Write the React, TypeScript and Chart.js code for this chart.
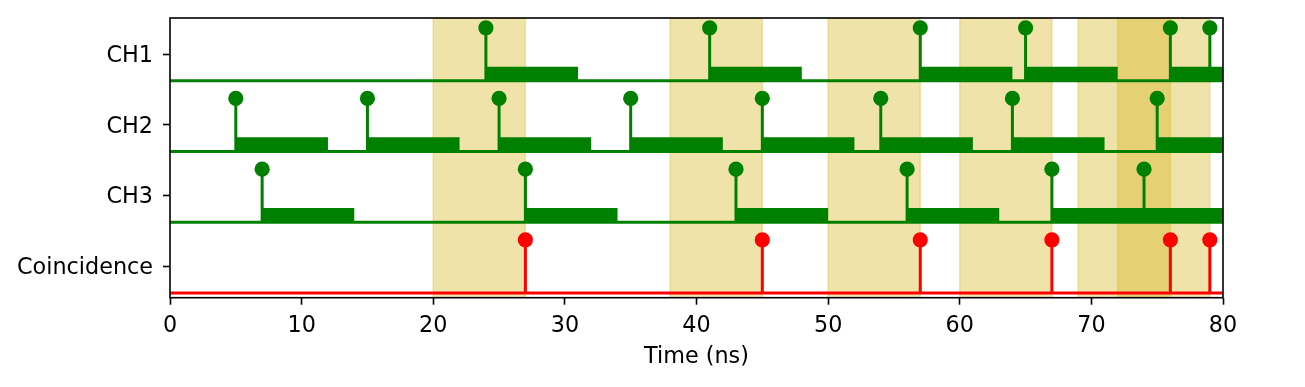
import React, { useEffect, useRef } from "react";
import { Chart, registerables } from "chart.js";

Chart.register(...registerables);

// ---- data ----
const channelLabels = ["CH1", "CH2", "CH3", "Coincidence"];
const channelBaselines = [3, 2, 1, 0];
const ch1Pulses = [24, 41, 57, 65, 76, 79];
const ch2Pulses = [5, 15, 25, 35, 45, 54, 64, 75];
const ch3Pulses = [7, 27, 43, 56, 67, 74];
const coincidencePulses = [27, 45, 57, 67, 76, 79];
const windowStarts = [20, 38, 50, 60, 69, 72];
const windowEnds = [27, 45, 57, 67, 76, 79];
const gateWidth = 7; // ns, length of each channel's gate
const stemHeight = 0.75;
const gateHeight = 0.2;
const labelOffset = 0.375;
const xTicks = [0, 10, 20, 30, 40, 50, 60, 70, 80];
const xMin = 0;
const xMax = 80;
const yMin = -0.068;
const yMax = 3.888;

const GREEN = "#008000";
const RED = "#ff0000";
const SPAN_FILL = "rgba(212,182,28,0.38)";
const FONT = "'DejaVu Sans', 'Liberation Sans', sans-serif";
const FONT_SIZE = 22.3;

function gateWaveform(pulses: number[], base: number) {
  // merge overlapping gates
  const intervals: [number, number][] = [];
  pulses
    .slice()
    .sort((a, b) => a - b)
    .forEach((p) => {
      const s = p;
      const e = Math.min(p + gateWidth, xMax);
      const last = intervals[intervals.length - 1];
      if (last && s <= last[1]) last[1] = Math.max(last[1], e);
      else intervals.push([s, e]);
    });
  const pts: { x: number; y: number }[] = [{ x: xMin, y: base }];
  intervals.forEach(([s, e]) => {
    pts.push({ x: s, y: base }, { x: s, y: base + gateHeight }, { x: e, y: base + gateHeight }, { x: e, y: base });
  });
  if (pts[pts.length - 1].x < xMax) pts.push({ x: xMax, y: base });
  return pts;
}

function stemPoints(pulses: number[], base: number) {
  const pts: { x: number; y: number | null }[] = [];
  pulses.forEach((p) => {
    pts.push({ x: p, y: base }, { x: p, y: base + stemHeight }, { x: p, y: null });
  });
  return pts;
}

function markerPoints(pulses: number[], base: number) {
  return pulses.map((p) => ({ x: p, y: base + stemHeight }));
}

const framePlugin = {
  id: "frame",
  afterDatasetsDraw(chart: any) {
    const { ctx, chartArea } = chart;
    ctx.save();
    ctx.strokeStyle = "#000";
    ctx.lineWidth = 1.6;
    ctx.strokeRect(chartArea.left, chartArea.top, chartArea.right - chartArea.left, chartArea.bottom - chartArea.top);
    ctx.restore();
  },
};

export default function App() {
  const canvasRef = useRef<HTMLCanvasElement | null>(null);

  useEffect(() => {
    if (!canvasRef.current) return;
    const datasets: any[] = [];

    // shaded coincidence windows
    windowStarts.forEach((s, i) => {
      const e = windowEnds[i];
      datasets.push({
        data: [
          { x: s, y: yMin },
          { x: s, y: yMax },
          { x: e, y: yMax },
          { x: e, y: yMin },
        ],
        showLine: true,
        fill: "start",
        backgroundColor: SPAN_FILL,
        borderColor: SPAN_FILL,
        borderWidth: 1.5,
        pointRadius: 0,
        order: 6,
      });
    });

    const channels = [
      { pulses: ch1Pulses, base: channelBaselines[0], color: GREEN, gates: true },
      { pulses: ch2Pulses, base: channelBaselines[1], color: GREEN, gates: true },
      { pulses: ch3Pulses, base: channelBaselines[2], color: GREEN, gates: true },
      { pulses: coincidencePulses, base: channelBaselines[3], color: RED, gates: false },
    ];

    channels.forEach((c) => {
      if (c.gates) {
        datasets.push({
          data: gateWaveform(c.pulses, c.base),
          showLine: true,
          fill: { value: c.base },
          backgroundColor: c.color,
          borderColor: "transparent",
          borderWidth: 0,
          pointRadius: 0,
          order: 4,
        });
      }
      // baseline
      datasets.push({
        data: [
          { x: xMin, y: c.base },
          { x: xMax, y: c.base },
        ],
        showLine: true,
        fill: false,
        borderColor: c.color,
        borderWidth: 3,
        pointRadius: 0,
        order: 3,
      });
      datasets.push({
        data: stemPoints(c.pulses, c.base),
        showLine: true,
        spanGaps: false,
        borderColor: c.color,
        borderWidth: 3,
        pointRadius: 0,
        fill: false,
        order: 2,
      });
      datasets.push({
        data: markerPoints(c.pulses, c.base),
        showLine: false,
        pointRadius: 7.6,
        pointBackgroundColor: c.color,
        pointBorderWidth: 0,
        order: 1,
      });
    });

    const yTickValues = channelBaselines.map((b) => b + labelOffset);

    const chart = new Chart(canvasRef.current, {
      type: "scatter",
      data: { datasets },
      options: {
        animation: false,
        responsive: true,
        maintainAspectRatio: false,
        events: [],
        layout: { padding: { left: 0, right: 82, top: 18, bottom: 16 } },
        plugins: { legend: { display: false }, tooltip: { enabled: false } },
        scales: {
          x: {
            type: "linear",
            min: xMin,
            max: xMax,
            afterBuildTicks: (scale: any) => {
              scale.ticks = xTicks.map((v) => ({ value: v }));
            },
            afterFit: (scale: any) => {
              scale.height = 73.3;
              scale.paddingLeft = 0;
              scale.paddingRight = 0;
            },
            border: { display: false },
            grid: {
              display: true,
              drawOnChartArea: false,
              drawTicks: true,
              tickLength: 7,
              tickWidth: 1.6,
              tickColor: "#000",
            },
            ticks: {
              color: "#000",
              font: { family: FONT, size: FONT_SIZE },
              padding: 8,
              maxRotation: 0,
              autoSkip: false,
            },
            title: {
              display: true,
              text: "Time (ns)",
              color: "#000",
              font: { family: FONT, size: FONT_SIZE },
              padding: { top: 0, bottom: 0 },
            },
          },
          y: {
            type: "linear",
            min: yMin,
            max: yMax,
            afterBuildTicks: (scale: any) => {
              scale.ticks = yTickValues.map((v) => ({ value: v }));
            },
            afterFit: (scale: any) => {
              scale.width = 170;
              scale.paddingTop = 0;
              scale.paddingBottom = 0;
            },
            border: { display: false },
            grid: {
              display: true,
              drawOnChartArea: false,
              drawTicks: true,
              tickLength: 7,
              tickWidth: 1.6,
              tickColor: "#000",
            },
            ticks: {
              color: "#000",
              font: { family: FONT, size: FONT_SIZE },
              padding: 10,
              labelOffset: 2,
              autoSkip: false,
              callback: (value: any) => {
                const idx = yTickValues.findIndex((v) => Math.abs(v - Number(value)) < 1e-6);
                return idx >= 0 ? channelLabels[idx] : "";
              },
            },
          },
        },
      },
      plugins: [framePlugin],
    });

    return () => chart.destroy();
  }, []);

  return (
    <div style={{ position: "fixed", left: 0, top: 0, width: 1305, height: 387, background: "#fff" }}>
      <canvas ref={canvasRef} />
    </div>
  );
}
